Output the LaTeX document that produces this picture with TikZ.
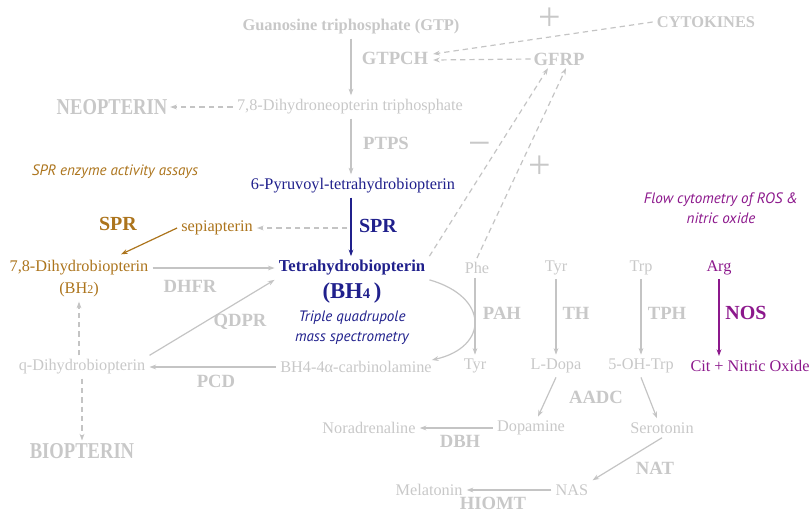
\documentclass[tikz,border=0pt]{standalone}
\usepackage{fontspec}
\setmainfont{Liberation Serif}
\newfontfamily\itsans{PT Sans}
\usetikzlibrary{arrows.meta,calc}
\definecolor{gtxt}{RGB}{200,200,200}
\definecolor{gline}{RGB}{196,196,196}
\definecolor{bluec}{RGB}{32,32,140}
\definecolor{brownc}{RGB}{172,116,28}
\definecolor{purplec}{RGB}{140,24,140}
\tikzset{
  gt/.style={text=gtxt, font=\fontsize{12.2}{14}\selectfont, inner sep=3pt},
  gb/.style={text=gtxt, font=\bfseries\fontsize{14}{16}\selectfont, inner sep=2pt},
  big/.style={text=gtxt, font=\bfseries\fontsize{17}{18}\selectfont, inner sep=2pt},
  note/.style={font=\itsans\itshape\fontsize{11.3}{13}\selectfont, inner sep=1pt},
  sign/.style={text=gtxt, font=\fontsize{30}{30}\selectfont, inner sep=0pt},
  arr/.style={draw=gline, line width=0.9pt, -{Stealth[length=5pt,width=3.6pt]}},
  darr/.style={arr, dash pattern=on 4pt off 3pt},
}
\begin{document}
\begin{tikzpicture}[x=0.75pt,y=-0.75pt]
\useasboundingbox (0,0) rectangle (811,512);
% top
\node[gt,font=\bfseries\fontsize{12.3}{14}\selectfont] (gtp) at (351,27) {Guanosine triphosphate (GTP)};
\node[gt,font=\bfseries\fontsize{12.3}{14}\selectfont] (cyto) at (706,22) {CYTOKINES};
\node[sign] (plusA) at (550,19) {+};
\node[gb] (gtpch) at (395,58) {GTPCH};
\node[gb] (gfrp) at (559,59) {GFRP};
\node[big] (neo) at (112,107) {\scalebox{0.82}[1]{NEOPTERIN}};
\node[gt] (dhn) at (350,107) {7,8-Dihydroneopterin triphosphate};
\node[gb] (ptps) at (386,143) {PTPS};
\node[note,text=brownc] (spra) at (115,172) {SPR enzyme activity assays};
\node[gt,text=bluec] (pyr) at (353,186) {6-Pyruvoyl-tetrahydrobiopterin};
\node[gb,text=bluec,font=\bfseries\fontsize{15}{16}\selectfont] (sprb) at (378,226) {SPR};
\node[gb,text=brownc,font=\bfseries\fontsize{15}{16}\selectfont] (sprbr) at (118,224) {SPR};
\node[gt,text=brownc] (sepi) at (217,228) {sepiapterin};
\node[gt,text=brownc] (dhb) at (79,268) {7,8-Dihydrobiopterin};
\node[gt,text=brownc] (bh2) at (79,290) {(BH{\fontsize{9}{10}\selectfont 2})};
\node[gb] (dhfr) at (190,286) {DHFR};
\node[gt,text=bluec,font=\bfseries\fontsize{12.5}{14}\selectfont] (bh4) at (352,268) {Tetrahydrobiopterin};
\node[gt,text=bluec,font=\bfseries\fontsize{17}{18}\selectfont] (bh4b) at (352,293) {(BH{\fontsize{11}{12}\selectfont 4}\,)};
\node[note,text=bluec] (tq1) at (352,318) {Triple quadrupole};
\node[note,text=bluec] (tq2) at (352,338) {mass spectrometry};
\node[gb] (qdpr) at (240,322) {QDPR};
\node[gt] (qdh) at (82,367) {q-Dihydrobiopterin};
\node[gt] (carb) at (356,367) {BH4-4α-carbinolamine};
\node[gb] (pcd) at (216,381) {PCD};
\node[big] (bio) at (82,451) {\scalebox{0.82}[1]{BIOPTERIN}};
\node[sign] (minus) at (480,149) {−};
\node[sign] (plusB) at (540,167) {+};
% amino acids
\node[gt] (phe) at (477,268) {Phe};
\node[gt] (tyr) at (556,268) {Tyr};
\node[gt] (trp) at (641,268) {Trp};
\node[gt,text=purplec] (arg) at (719,268) {Arg};
\node[gb] (pah) at (502,313) {PAH};
\node[gb] (th) at (576,313) {TH};
\node[gb] (tph) at (667,313) {TPH};
\node[gb,text=purplec,font=\bfseries\fontsize{15}{16}\selectfont] (nos) at (746,313) {NOS};
\node[note,text=purplec] (flow1) at (721,200) {Flow cytometry of ROS \&};
\node[note,text=purplec] (flow2) at (721,218) {nitric oxide};
\node[gt] (tyr2) at (475,366) {Tyr};
\node[gt] (ldopa) at (556,366) {L-Dopa};
\node[gt] (ohtrp) at (641,366) {5-OH-Trp};
\node[gt,text=purplec] (cit) at (750,366) {Cit + Nitric Oxide};
\node[gb] (aadc) at (596,397) {AADC};
\node[gt] (norad) at (369,428) {Noradrenaline};
\node[gt] (dopa) at (531,428) {Dopamine};
\node[gt] (sero) at (662,428) {Serotonin};
\node[gb] (dbh) at (460,441) {DBH};
\node[gb] (nat) at (655,468) {NAT};
\node[gt] (mela) at (429,490) {Melatonin};
\node[gt] (nas) at (572,490) {NAS};
\node[gb] (hiomt) at (493,503) {HIOMT};
% connectors
\draw[arr] (gtp.south) -- (gtp.south |- dhn.north);
\draw[darr] (cyto.west) -- ($(gtpch.east)+(2,-4)$);
\draw[darr] (gfrp.west) -- ($(gtpch.east)+(2,2)$);
\draw[darr] (dhn.west) -- (neo.east);
\draw[arr] (dhn.south -| gtp.south) -- (gtp.south |- pyr.north);
\draw[arr,draw=bluec] (pyr.south -| gtp.south) -- (gtp.south |- bh4.north);
\coordinate (sj) at ($(gtp.south |- sepi)+(-4,0)$);
\draw[darr] (sj) -- (sepi.east);
\draw[arr,draw=brownc] (sepi.west) -- ($(dhb.north)+(42,-2)$);
\draw[arr] (dhb.east) -- (bh4.west);
\draw[arr] (qdh.north east) -- (bh4.south west);
\draw[arr] (carb.west) -- (qdh.east);
\draw[darr] (qdh.north -| bh2.south) -- (bh2.south);
\draw[darr] (qdh.south -| bio.north) -- (bio.north);
\draw[arr] (bh4.south east) .. controls +(60,17) and +(57,-13) .. ($(carb.north east)+(-4,3)$);
\draw[darr] (bh4.north east) -- ($(gfrp.south)+(-11,0)$);
\draw[darr] (phe.north) -- ($(gfrp.south)+(7,0)$);
\draw[arr] (phe.south -| tyr2) -- (tyr2.north);
\draw[arr] (tyr.south) -- (tyr.south |- ldopa.north);
\draw[arr] (trp.south) -- (trp.south |- ohtrp.north);
\draw[arr,draw=purplec] (arg.south) -- (arg.south |- cit.north);
\draw[arr] (ldopa.south) -- ($(dopa.north)+(7,0)$);
\draw[arr] (ohtrp.south) -- ($(sero.north)+(-5,0)$);
\draw[arr] (dopa.west) -- (norad.east);
\draw[arr] (sero.south) -- (nas.north east);
\draw[arr] (nas.west) -- (mela.east);
\end{tikzpicture}
\end{document}
